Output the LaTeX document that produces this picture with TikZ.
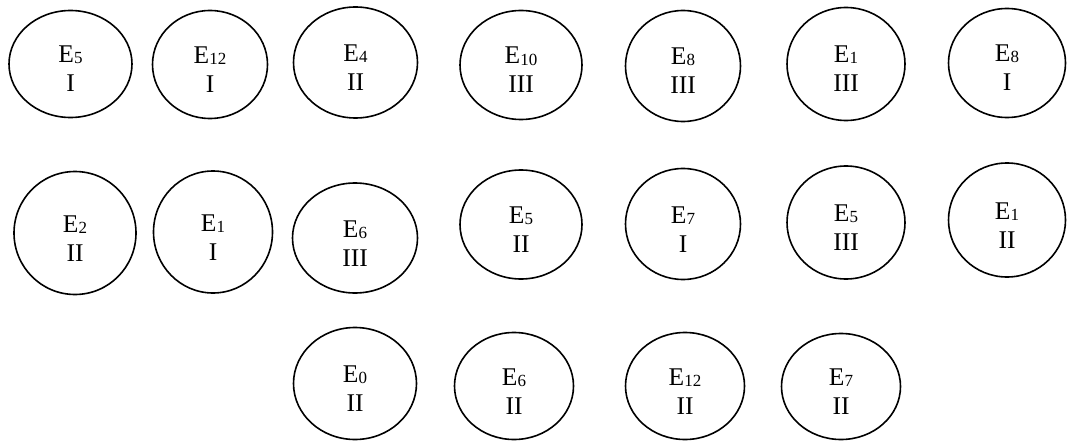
\documentclass[tikz,border=0pt]{standalone}
\usepackage{fontspec}
\setmainfont{Liberation Serif}
\usetikzlibrary{shapes.geometric}

\newcommand{\esub}[1]{\raisebox{-1pt}{\fontsize{17}{17}\selectfont #1}}
\newcommand{\elab}[2]{E\esub{#1}\rule{0pt}{27pt}\\#2}

\tikzset{
  ev/.style={ellipse, draw, line width=1.6pt, inner sep=0pt, align=center,
    font=\fontsize{25.5}{29}\selectfont}
}

\begin{document}
\begin{tikzpicture}[x=1pt,y=-1pt]
\useasboundingbox (0,0) rectangle (1067,441);
% first row
\node[ev, minimum width=123, minimum height=107] (e5a) at (70.5,64) {\elab{5}{I}};
\node[ev, minimum width=115, minimum height=108] (e12a) at (210,64.5) {\elab{12}{I}};
\node[ev, minimum width=124, minimum height=111] (e4) at (355.5,62.5) {\elab{4}{II}};
\node[ev, minimum width=122, minimum height=109] (e10) at (521,65) {\elab{10}{III}};
\node[ev, minimum width=115, minimum height=111] (e8a) at (683,66) {\elab{8}{III}};
\node[ev, minimum width=118, minimum height=113] (e1a) at (846,64) {\elab{1}{III}};
\node[ev, minimum width=117, minimum height=109] (e8b) at (1007,63) {\elab{8}{I}};
% second row
\node[ev, minimum width=122, minimum height=123] (e2) at (75,233) {\elab{2}{II}};
\node[ev, minimum width=119, minimum height=122] (e1b) at (213,232) {\elab{1}{I}};
\node[ev, minimum width=125, minimum height=110] (e6a) at (355,238) {\elab{6}{III}};
\node[ev, minimum width=122, minimum height=109] (e5b) at (521,224.5) {\elab{5}{II}};
\node[ev, minimum width=115, minimum height=111] (e7a) at (683,224) {\elab{7}{I}};
\node[ev, minimum width=118, minimum height=113] (e5c) at (846,222.5) {\elab{5}{III}};
\node[ev, minimum width=117, minimum height=114] (e1c) at (1007,220) {\elab{1}{II}};
% third row
\node[ev, minimum width=123, minimum height=112] (e0) at (355,383.5) {\elab{0}{II}};
\node[ev, minimum width=119, minimum height=107] (e6b) at (514,386) {\elab{6}{II}};
\node[ev, minimum width=119, minimum height=107] (e12b) at (685,386) {\elab{12}{II}};
\node[ev, minimum width=119, minimum height=106] (e7b) at (841,386.5) {\elab{7}{II}};
\end{tikzpicture}
\end{document}
